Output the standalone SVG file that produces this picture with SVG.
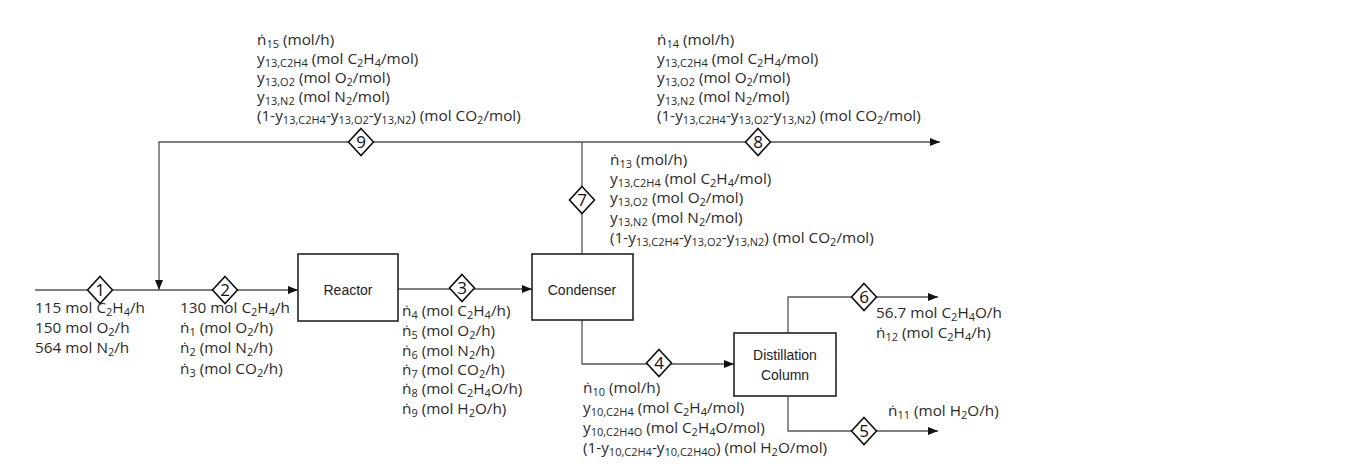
<svg xmlns="http://www.w3.org/2000/svg" width="1364" height="475" viewBox="0 0 1364 475">
<style>
.l{font-family:"Open Sans","Liberation Sans",sans-serif;font-size:15.3px;fill:#2a2a2a}
.s{font-size:11px;baseline-shift:-3px}
.box{fill:#fff;stroke:#222;stroke-width:1.6}
.bt{font-family:"Liberation Sans",Arial,sans-serif;font-size:14px;fill:#222;text-anchor:middle}
.c{fill:none;stroke:#555;stroke-width:1.3}
.d{fill:#fff;stroke:#111;stroke-width:1.6}
.dn{font-family:"Open Sans","Liberation Sans",sans-serif;font-size:17px;fill:#111;text-anchor:middle}
</style>
<defs>
<marker id="ar" markerWidth="10" markerHeight="8" refX="10" refY="4" orient="auto" markerUnits="userSpaceOnUse">
<path d="M0,0 L10,4 L0,8 z" fill="#111"/>
</marker>
<g id="dia"><path class="d" d="M0,-13.5 L12.5,0 L0,13.5 L-12.5,0 z"/></g>
</defs>
<rect width="1364" height="475" fill="#fff"/>
<g id="connectors">
<path class="c" d="M35,290 L298,290" marker-end="url(#ar)"/>
<path class="c" d="M398,289 L532,289" marker-end="url(#ar)"/>
<path class="c" d="M582,254 L582,142"/>
<path class="c" d="M582,142 L940,142" marker-end="url(#ar)"/>
<path class="c" d="M582,142 L159,142 L159,290" marker-end="url(#ar)"/>
<path class="c" d="M582,320 L582,364 L734,364" marker-end="url(#ar)"/>
<path class="c" d="M788,333 L788,297 L938,297" marker-end="url(#ar)"/>
<path class="c" d="M788,396 L788,431 L938,431" marker-end="url(#ar)"/>
</g>
<g id="reactor"><rect class="box" x="298" y="254" width="100" height="67"/><text class="bt" x="348" y="295">Reactor</text></g>
<g id="condenser"><rect class="box" x="532" y="254" width="101" height="66"/><text class="bt" x="582" y="295">Condenser</text></g>
<g id="distillation"><rect class="box" x="734" y="333" width="102" height="63"/><text class="bt" x="785" y="360">Distillation</text><text class="bt" x="785" y="380">Column</text></g>
<g id="s1"><use href="#dia" x="100" y="290"/><text class="dn" x="100" y="296">1</text></g>
<g id="s2"><use href="#dia" x="225" y="290"/><text class="dn" x="225" y="296">2</text></g>
<g id="s3"><use href="#dia" x="462" y="288"/><text class="dn" x="462" y="294">3</text></g>
<g id="s4"><use href="#dia" x="659" y="363"/><text class="dn" x="659" y="369">4</text></g>
<g id="s5"><use href="#dia" x="864" y="431"/><text class="dn" x="864" y="437">5</text></g>
<g id="s6"><use href="#dia" x="864" y="297"/><text class="dn" x="864" y="303">6</text></g>
<g id="s7"><use href="#dia" x="582" y="200"/><text class="dn" x="582" y="206">7</text></g>
<g id="s8"><use href="#dia" x="758" y="142"/><text class="dn" x="758" y="148">8</text></g>
<g id="s9"><use href="#dia" x="361" y="142"/><text class="dn" x="361" y="148">9</text></g>
<g id="labels15">
<text class="l" x="257" y="45">ṅ<tspan class="s">15</tspan> (mol/h)</text>
<text class="l" x="257" y="64">y<tspan class="s">13,C2H4</tspan> (mol C<tspan class="s">2</tspan>H<tspan class="s">4</tspan>/mol)</text>
<text class="l" x="257" y="83">y<tspan class="s">13,O2</tspan> (mol O<tspan class="s">2</tspan>/mol)</text>
<text class="l" x="257" y="102">y<tspan class="s">13,N2</tspan> (mol N<tspan class="s">2</tspan>/mol)</text>
<text class="l" x="257" y="121">(1-y<tspan class="s">13,C2H4</tspan>-y<tspan class="s">13,O2</tspan>-y<tspan class="s">13,N2</tspan>) (mol CO<tspan class="s">2</tspan>/mol)</text>
</g>
<g id="labels14">
<text class="l" x="657" y="45">ṅ<tspan class="s">14</tspan> (mol/h)</text>
<text class="l" x="657" y="64">y<tspan class="s">13,C2H4</tspan> (mol C<tspan class="s">2</tspan>H<tspan class="s">4</tspan>/mol)</text>
<text class="l" x="657" y="83">y<tspan class="s">13,O2</tspan> (mol O<tspan class="s">2</tspan>/mol)</text>
<text class="l" x="657" y="102">y<tspan class="s">13,N2</tspan> (mol N<tspan class="s">2</tspan>/mol)</text>
<text class="l" x="657" y="121">(1-y<tspan class="s">13,C2H4</tspan>-y<tspan class="s">13,O2</tspan>-y<tspan class="s">13,N2</tspan>) (mol CO<tspan class="s">2</tspan>/mol)</text>
</g>
<g id="labels13">
<text class="l" x="610" y="165">ṅ<tspan class="s">13</tspan> (mol/h)</text>
<text class="l" x="610" y="184">y<tspan class="s">13,C2H4</tspan> (mol C<tspan class="s">2</tspan>H<tspan class="s">4</tspan>/mol)</text>
<text class="l" x="610" y="203">y<tspan class="s">13,O2</tspan> (mol O<tspan class="s">2</tspan>/mol)</text>
<text class="l" x="610" y="223">y<tspan class="s">13,N2</tspan> (mol N<tspan class="s">2</tspan>/mol)</text>
<text class="l" x="610" y="243">(1-y<tspan class="s">13,C2H4</tspan>-y<tspan class="s">13,O2</tspan>-y<tspan class="s">13,N2</tspan>) (mol CO<tspan class="s">2</tspan>/mol)</text>
</g>
<g id="labels1">
<text class="l" x="35" y="313">115 mol C<tspan class="s">2</tspan>H<tspan class="s">4</tspan>/h</text>
<text class="l" x="35" y="333">150 mol O<tspan class="s">2</tspan>/h</text>
<text class="l" x="35" y="353">564 mol N<tspan class="s">2</tspan>/h</text>
</g>
<g id="labels2">
<text class="l" x="180" y="313">130 mol C<tspan class="s">2</tspan>H<tspan class="s">4</tspan>/h</text>
<text class="l" x="180" y="333">ṅ<tspan class="s">1</tspan> (mol O<tspan class="s">2</tspan>/h)</text>
<text class="l" x="180" y="353">ṅ<tspan class="s">2</tspan> (mol N<tspan class="s">2</tspan>/h)</text>
<text class="l" x="180" y="374">ṅ<tspan class="s">3</tspan> (mol CO<tspan class="s">2</tspan>/h)</text>
</g>
<g id="labels3">
<text class="l" x="402" y="316">ṅ<tspan class="s">4</tspan> (mol C<tspan class="s">2</tspan>H<tspan class="s">4</tspan>/h)</text>
<text class="l" x="402" y="336">ṅ<tspan class="s">5</tspan> (mol O<tspan class="s">2</tspan>/h)</text>
<text class="l" x="402" y="356">ṅ<tspan class="s">6</tspan> (mol N<tspan class="s">2</tspan>/h)</text>
<text class="l" x="402" y="375">ṅ<tspan class="s">7</tspan> (mol CO<tspan class="s">2</tspan>/h)</text>
<text class="l" x="402" y="394">ṅ<tspan class="s">8</tspan> (mol C<tspan class="s">2</tspan>H<tspan class="s">4</tspan>O/h)</text>
<text class="l" x="402" y="414">ṅ<tspan class="s">9</tspan> (mol H<tspan class="s">2</tspan>O/h)</text>
</g>
<g id="labels4">
<text class="l" x="583" y="393">ṅ<tspan class="s">10</tspan> (mol/h)</text>
<text class="l" x="583" y="413">y<tspan class="s">10,C2H4</tspan> (mol C<tspan class="s">2</tspan>H<tspan class="s">4</tspan>/mol)</text>
<text class="l" x="583" y="433">y<tspan class="s">10,C2H4O</tspan> (mol C<tspan class="s">2</tspan>H<tspan class="s">4</tspan>O/mol)</text>
<text class="l" x="583" y="453">(1-y<tspan class="s">10,C2H4</tspan>-y<tspan class="s">10,C2H4O</tspan>) (mol H<tspan class="s">2</tspan>O/mol)</text>
</g>
<g id="labels6">
<text class="l" x="876" y="318">56.7 mol C<tspan class="s">2</tspan>H<tspan class="s">4</tspan>O/h</text>
<text class="l" x="876" y="338">ṅ<tspan class="s">12</tspan> (mol C<tspan class="s">2</tspan>H<tspan class="s">4</tspan>/h)</text>
</g>
<g id="labels5">
<text class="l" x="888" y="416">ṅ<tspan class="s">11</tspan> (mol H<tspan class="s">2</tspan>O/h)</text>
</g>
</svg>
